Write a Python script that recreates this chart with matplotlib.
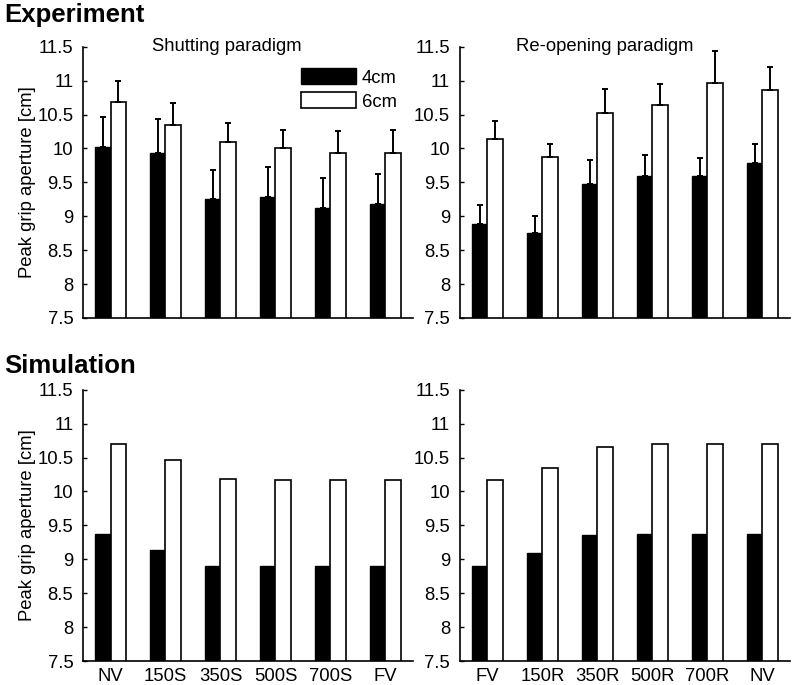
import matplotlib.pyplot as plt
import numpy as np

plt.rcParams['font.family'] = ['Liberation Sans', 'DejaVu Sans']
plt.rcParams['font.size'] = 13.3

# data
shut_labels = ["NV", "150S", "350S", "500S", "700S", "FV"]
reop_labels = ["FV", "150R", "350R", "500R", "700R", "NV"]

exp_shut_4 = [10.02, 9.93, 9.26, 9.29, 9.12, 9.18]
exp_shut_4_err = [0.44, 0.50, 0.42, 0.44, 0.44, 0.45]
exp_shut_6 = [10.68, 10.35, 10.10, 10.01, 9.94, 9.93]
exp_shut_6_err = [0.31, 0.32, 0.27, 0.26, 0.31, 0.34]

exp_reop_4 = [8.88, 8.76, 9.48, 9.60, 9.59, 9.78]
exp_reop_4_err = [0.28, 0.25, 0.35, 0.30, 0.27, 0.29]
exp_reop_6 = [10.14, 9.87, 10.52, 10.64, 10.97, 10.86]
exp_reop_6_err = [0.27, 0.19, 0.35, 0.31, 0.46, 0.34]

sim_shut_4 = [9.38, 9.13, 8.90, 8.90, 8.90, 8.90]
sim_shut_6 = [10.70, 10.47, 10.19, 10.17, 10.17, 10.17]
sim_reop_4 = [8.90, 9.10, 9.36, 9.37, 9.37, 9.37]
sim_reop_6 = [10.17, 10.35, 10.65, 10.70, 10.70, 10.70]

fig = plt.figure(figsize=(7.93, 6.85), dpi=100)
W = 0.416
H = 0.396
ax_tl = fig.add_axes([0.1047, 0.5358, W, H])
ax_tr = fig.add_axes([0.580, 0.5358, W, H])
ax_bl = fig.add_axes([0.1047, 0.035, W, H])
ax_br = fig.add_axes([0.580, 0.035, W, H])

bw = 0.28
x = np.arange(1, 7)


def draw(ax, v4, v6, e4=None, e6=None, labels=None):
    b1 = ax.bar(x - bw / 2, v4, bw, color='black', edgecolor='black', linewidth=1)
    b2 = ax.bar(x + bw / 2, v6, bw, color='white', edgecolor='black', linewidth=1.2)
    if e4 is not None:
        ax.errorbar(x - bw / 2, v4, yerr=[np.zeros(6), e4], fmt='none',
                    ecolor='black', elinewidth=1.4, capsize=2.5, capthick=1.4)
        ax.errorbar(x + bw / 2, v6, yerr=[np.zeros(6), e6], fmt='none',
                    ecolor='black', elinewidth=1.4, capsize=2.5, capthick=1.4)
    ax.set_ylim(7.5, 11.5)
    ax.set_xlim(0.5, 6.5)
    ax.set_yticks([7.5, 8, 8.5, 9, 9.5, 10, 10.5, 11, 11.5])
    ax.set_yticklabels(['7.5', '8', '8.5', '9', '9.5', '10', '10.5', '11', '11.5'])
    ax.set_xticks(x)
    if labels is None:
        ax.set_xticklabels([])
    else:
        ax.set_xticklabels(labels)
    ax.tick_params(axis='y', direction='in', length=3, width=1, pad=7)
    ax.tick_params(axis='x', length=0, pad=5)
    for s in ['top', 'right']:
        ax.spines[s].set_visible(False)
    for s in ['left', 'bottom']:
        ax.spines[s].set_linewidth(1.2)
    return b1, b2


b1, b2 = draw(ax_tl, exp_shut_4, exp_shut_6, exp_shut_4_err, exp_shut_6_err)
draw(ax_tr, exp_reop_4, exp_reop_6, exp_reop_4_err, exp_reop_6_err)
draw(ax_bl, sim_shut_4, sim_shut_6, labels=shut_labels)
draw(ax_br, sim_reop_4, sim_reop_6, labels=reop_labels)

ax_tl.set_ylabel("Peak grip aperture [cm]", labelpad=1)
ax_bl.set_ylabel("Peak grip aperture [cm]", labelpad=1)

ax_tl.text(0.435, 1.0, "Shutting paradigm", transform=ax_tl.transAxes,
           ha='center', va='center')
ax_tr.text(0.44, 1.0, "Re-opening paradigm", transform=ax_tr.transAxes,
           ha='center', va='center')

ax_tl.legend([b1, b2], ["4cm", "6cm"], loc='upper left', bbox_to_anchor=(0.66, 0.92),
             frameon=False, borderaxespad=0, borderpad=0, handlelength=3.0,
             handleheight=0.95, handletextpad=0.3, labelspacing=0.3)

fig.text(0.005, 0.978, "Experiment", fontsize=18.5, fontweight='bold', va='center')
fig.text(0.005, 0.466, "Simulation", fontsize=18.5, fontweight='bold', va='center')

fig.savefig("out.png", dpi=100)
